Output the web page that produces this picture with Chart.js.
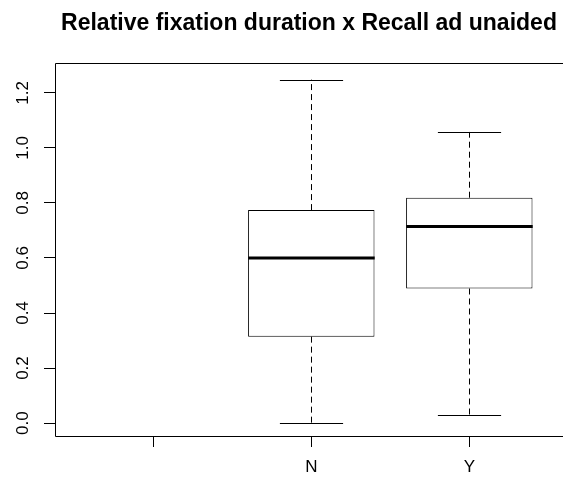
<!DOCTYPE html>
<html>
<head>
<meta charset="utf-8">
<script src="https://cdn.jsdelivr.net/npm/chart.js@4"></script>
<style>
  html, body { margin: 0; padding: 0; overflow: hidden; background: #fff; }
  canvas { display: block; }
</style>
</head>
<body>
<canvas id="boxChart" width="563" height="479"></canvas>
<script>
// values (R boxplot stats)
const categories = ["", "N", "Y"];
const whiskerLow = [null, 0.000, 0.029];
const q1 = [null, 0.314, 0.489];
const median = [null, 0.600, 0.714];
const q3 = [null, 0.774, 0.819];
const whiskerHigh = [null, 1.248, 1.058];
const yTicks = [0, 0.2, 0.4, 0.6, 0.8, 1.0, 1.2];

const font = "'Liberation Sans', Arial, sans-serif";

// boxes as floating bars, skip empty group
const boxData = [];
categories.forEach((c, i) => {
    if (q1[i] != null) boxData.push({ x: i + 1, y: [q1[i], q3[i]] });
});

// whiskers, caps, median and frame
const boxExtras = {
    id: 'boxExtras',
    afterDatasetsDraw(chart) {
        const ctx = chart.ctx;
        const xs = chart.scales.x;
        const ys = chart.scales.y;
        const half = (xs.getPixelForValue(1.4) - xs.getPixelForValue(1)); // 0.4 of a group
        ctx.save();
        ctx.strokeStyle = '#000';
        categories.forEach((c, i) => {
            if (q1[i] == null) return;
            const cx = Math.round(xs.getPixelForValue(i + 1)) + 0.5;
            // dashed whiskers
            ctx.lineWidth = 1;
            ctx.setLineDash([6, 4]);
            ctx.beginPath();
            ctx.moveTo(cx, ys.getPixelForValue(q3[i]));
            ctx.lineTo(cx, ys.getPixelForValue(whiskerHigh[i]));
            ctx.moveTo(cx, ys.getPixelForValue(q1[i]));
            ctx.lineTo(cx, ys.getPixelForValue(whiskerLow[i]));
            ctx.stroke();
            // caps
            ctx.setLineDash([]);
            ctx.beginPath();
            [whiskerHigh[i], whiskerLow[i]].forEach(v => {
                const y = Math.round(ys.getPixelForValue(v)) + 0.5;
                ctx.moveTo(cx - half / 2, y);
                ctx.lineTo(cx + half / 2, y);
            });
            ctx.stroke();
            // median
            ctx.lineWidth = 3;
            ctx.beginPath();
            const my = ys.getPixelForValue(median[i]);
            ctx.moveTo(cx - half, my);
            ctx.lineTo(cx + half, my);
            ctx.stroke();
        });
        // plot frame: the original is cut off on the right, so no right edge
        const a = chart.chartArea;
        const l = Math.round(a.left) + 0.5, t = Math.round(a.top) + 0.5, b = Math.round(a.bottom) + 0.5;
        ctx.lineWidth = 1;
        ctx.beginPath();
        ctx.moveTo(chart.width + 2, t);
        ctx.lineTo(l, t);
        ctx.lineTo(l, b);
        ctx.lineTo(chart.width + 2, b);
        ctx.stroke();
        ctx.restore();
    }
};

new Chart(document.getElementById('boxChart'), {
    type: 'bar',
    data: {
        datasets: [{
            data: boxData,
            backgroundColor: '#fff',
            borderColor: '#000',
            borderWidth: 1,
            borderSkipped: false,
            barPercentage: 0.8,
            categoryPercentage: 1
        }]
    },
    options: {
        responsive: false,
        animation: false,
        layout: { padding: 0 },
        plugins: {
            legend: { display: false },
            tooltip: { enabled: false },
            title: {
                display: true,
                fullSize: false,
                text: 'Relative fixation duration x Recall ad unaided',
                color: '#000',
                font: { family: font, size: 23, weight: 'bold' },
                padding: { top: 10, bottom: 25 }
            }
        },
        scales: {
            x: {
                type: 'linear',
                offset: false,
                min: 0.378,
                max: 3.593,
                afterBuildTicks(scale) {
                    scale.ticks = categories.map((c, i) => ({ value: i + 1 }));
                },
                afterFit(scale) { scale.height = 43; },
                ticks: {
                    color: '#000',
                    font: { family: font, size: 17 },
                    padding: 10,
                    maxRotation: 0,
                    callback: v => categories[v - 1]
                },
                grid: { offset: false, drawOnChartArea: false, color: '#000', tickLength: 11 },
                border: { display: false }
            },
            y: {
                min: -0.047,
                max: 1.31,
                afterBuildTicks(scale) {
                    scale.ticks = yTicks.map(v => ({ value: v }));
                },
                afterFit(scale) { scale.width = 55; },
                ticks: {
                    color: '#000',
                    font: { family: font, size: 17 },
                    minRotation: 90,
                    maxRotation: 90,
                    crossAlign: 'center',
                    padding: 9,
                    callback: v => v.toFixed(1)
                },
                grid: { drawOnChartArea: false, color: '#000', tickLength: 11 },
                border: { display: false }
            }
        }
    },
    plugins: [boxExtras]
});
</script>
</body>
</html>
